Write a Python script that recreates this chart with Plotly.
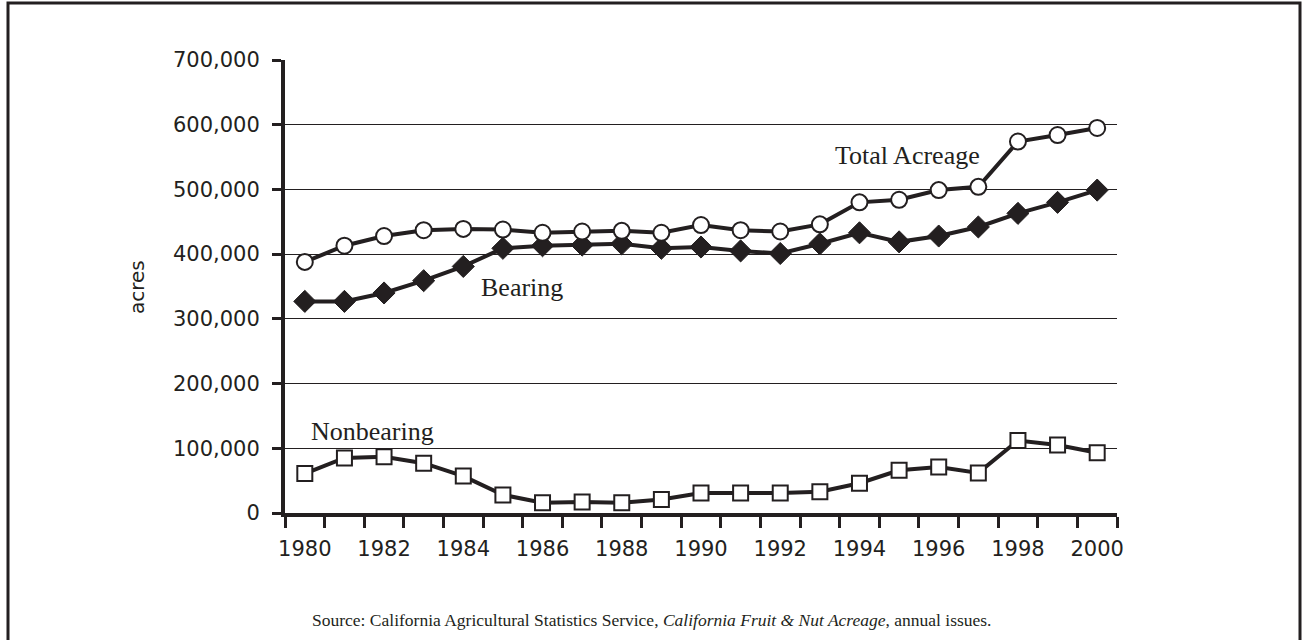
import plotly.graph_objects as go

ink = '#231f20'

years = list(range(1980, 2001))
total = [388000, 413000, 428000, 437000, 439000, 438000, 433000, 435000, 436000, 433000, 445000,
         437000, 435000, 446000, 480000, 484000, 499000, 504000, 574000, 584000, 595000]
bearing = [327000, 327000, 340000, 359000, 381000, 409000, 413000, 414000, 416000, 409000, 411000,
           405000, 401000, 416000, 433000, 419000, 428000, 442000, 463000, 480000, 499000]
nonbearing = [61000, 85000, 87000, 77000, 57000, 28000, 16000, 17000, 16000, 21000, 31000,
              31000, 31000, 33000, 46000, 66000, 71000, 62000, 112000, 105000, 93000]
year_ticks = list(range(1980, 2001, 2))

# plot area in pixels: x 285..1117, y 60..513
L, R, T, B = 285, 186, 60, 127
W, H = 1303 - L - R, 640 - T - B


def px(x):
    return (x - L) / W


def py(y):
    return (640 - B - y) / H


fig = go.Figure()

fig.add_trace(go.Scatter(x=years, y=nonbearing, mode='lines+markers', name='Nonbearing',
                         line=dict(color=ink, width=4),
                         marker=dict(symbol='square', size=15, color='white',
                                     line=dict(color=ink, width=2))))
fig.add_trace(go.Scatter(x=years, y=bearing, mode='lines+markers', name='Bearing',
                         line=dict(color=ink, width=4),
                         marker=dict(symbol='diamond', size=17, color=ink,
                                     line=dict(color=ink, width=1))))
fig.add_trace(go.Scatter(x=years, y=total, mode='lines+markers', name='Total Acreage',
                         line=dict(color=ink, width=4),
                         marker=dict(symbol='circle', size=16, color='white',
                                     line=dict(color=ink, width=2))))

fig.update_layout(
    width=1303, height=640,
    margin=dict(l=L, r=R, t=T, b=B),
    paper_bgcolor='white', plot_bgcolor='white',
    showlegend=False,
    font=dict(family='DejaVu Sans', color=ink, size=21),
)

fig.update_xaxes(
    range=[1979.5, 2000.5], tickvals=year_ticks, ticks='',
    showgrid=False, zeroline=False,
    showline=True, linecolor=ink, linewidth=4,
    minor=dict(tick0=1979.5, dtick=1, ticks='outside', ticklen=11, tickwidth=3, tickcolor=ink,
               showgrid=False),
    ticklabelstandoff=14,
    tickfont=dict(size=21, family='DejaVu Sans', color=ink),
)
fig.update_yaxes(
    range=[0, 700000], dtick=100000, tickformat=',',
    ticks='outside', ticklen=9, tickwidth=3, tickcolor=ink,
    showgrid=True, gridcolor=ink, gridwidth=1.3, zeroline=False,
    showline=True, linecolor=ink, linewidth=4,
    ticklabelstandoff=8,
    tickfont=dict(size=21, family='DejaVu Sans', color=ink),
)


def label(text, x, y, font, angle=0):
    fig.add_annotation(text=text, x=px(x), y=py(y), xref='paper', yref='paper',
                       xanchor='center', yanchor='middle', textangle=angle,
                       showarrow=False, font=font)


serif = dict(family='Liberation Serif', size=26, color=ink)
label('Total Acreage', 907, 155, serif)
label('Bearing', 522, 287, serif)
label('Nonbearing', 372, 431, serif)
label('acres', 137, 287, dict(family='DejaVu Sans', size=20, color=ink), angle=-90)
label('Source: California Agricultural Statistics Service, <i>California Fruit &amp; Nut Acreage</i>, annual issues.',
      652, 620, dict(family='Liberation Serif', size=17.5, color=ink))

# outer frame
fig.add_shape(type='rect', xref='paper', yref='paper',
              x0=px(8), x1=px(1300), y0=py(660), y1=py(3),
              line=dict(color=ink, width=3), fillcolor='rgba(0,0,0,0)', layer='above')

fig.write_html('out.html', config={'displayModeBar': False},
               post_script="document.body.style.margin='0px';")
